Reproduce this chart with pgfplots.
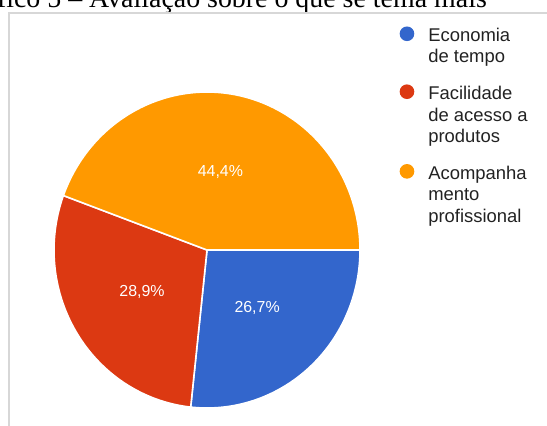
\documentclass[border=0pt]{standalone}
\usepackage{pgfplots}
\pgfplotsset{compat=1.18}
\usepackage{pgfplotstable}
\usepackage{fontspec}
\setmainfont{Liberation Sans}
\newfontfamily\seriffont{Liberation Serif}

\definecolor{gblue}{RGB}{51,102,204}
\definecolor{gred}{RGB}{220,57,18}
\definecolor{gorange}{RGB}{255,153,0}
\definecolor{framegray}{RGB}{215,215,215}
\definecolor{legtext}{RGB}{34,34,34}

\pgfplotstableread{
label value
Economia 26.7
Facilidade 28.9
Acompanhamento 44.4
}\piedata

\begin{document}
\begin{tikzpicture}
\pgfplotstablegetelem{0}{value}\of\piedata \edef\va{\pgfplotsretval}
\pgfplotstablegetelem{1}{value}\of\piedata \edef\vb{\pgfplotsretval}
\pgfplotstablegetelem{2}{value}\of\piedata \edef\vc{\pgfplotsretval}
\pgfmathsetmacro{\aA}{-3.6*\va}
\pgfmathsetmacro{\aB}{\aA-3.6*\vb}
\pgfmathsetmacro{\aC}{\aB-3.6*\vc}
\pgfmathsetmacro{\mA}{\aA/2}
\pgfmathsetmacro{\mB}{(\aA+\aB)/2}
\pgfmathsetmacro{\mC}{(\aB+\aC)/2}
\clip (0bp,0bp) rectangle (547bp,-426bp);
\useasboundingbox (0bp,0bp) rectangle (547bp,-426bp);
\node[anchor=base west, inner sep=0pt, font=\seriffont\fontsize{28}{32}\selectfont] at (-45bp,-7bp) {Gráfico 5 – Avaliação sobre o que se tema mais};
\draw[framegray, line width=1.2bp] (9bp,-440bp) -- (9bp,-13bp) -- (560bp,-13bp);
\begin{axis}[
  anchor=south west, at={(54bp,-408bp)},
  x=153bp, y=158bp,
  xmin=-1, xmax=1, ymin=-1, ymax=1,
  hide axis, clip=false,
  legend cell align=left,
  legend style={draw=none, fill=none, at={(axis description cs:1.129,1.208)}, anchor=north west,
    font=\fontsize{18.5}{21.5}\selectfont, text=legtext, nodes={align=left, inner xsep=14bp, inner ysep=0pt},
    row sep=20bp, inner sep=0pt},
]
\addplot[fill=gblue, draw=white, line width=1.6bp, domain=\aA:0, samples=90,
  legend image code/.code={\fill[gblue] (0bp,12.5bp) circle (6.5bp);}]
  ({cos(x)},{sin(x)}) -- (axis cs:0,0) -- cycle;
\addlegendentry{Economia\\de tempo}
\addplot[fill=gred, draw=white, line width=1.6bp, domain=\aB:\aA, samples=90,
  legend image code/.code={\fill[gred] (0bp,23.5bp) circle (6.5bp);}]
  ({cos(x)},{sin(x)}) -- (axis cs:0,0) -- cycle;
\addlegendentry{Facilidade\\de acesso a\\produtos}
\addplot[fill=gorange, draw=white, line width=1.6bp, domain=\aC:\aB, samples=120,
  legend image code/.code={\fill[gorange] (0bp,23.5bp) circle (6.5bp);}]
  ({cos(x)},{sin(x)}) -- (axis cs:0,0) -- cycle;
\addlegendentry{Acompanha\\mento\\profissional}
\node[white, font=\fontsize{16}{19}\selectfont] at (axis cs:{0.49*cos(\mA)},{0.49*sin(\mA)}) {26,7\%};
\node[white, font=\fontsize{16}{19}\selectfont] at (axis cs:{0.5*cos(\mB)},{0.5*sin(\mB)}) {28,9\%};
\node[white, font=\fontsize{16}{19}\selectfont] at (axis cs:{0.5*cos(\mC)},{0.5*sin(\mC)}) {44,4\%};
\end{axis}
\end{tikzpicture}
\end{document}
